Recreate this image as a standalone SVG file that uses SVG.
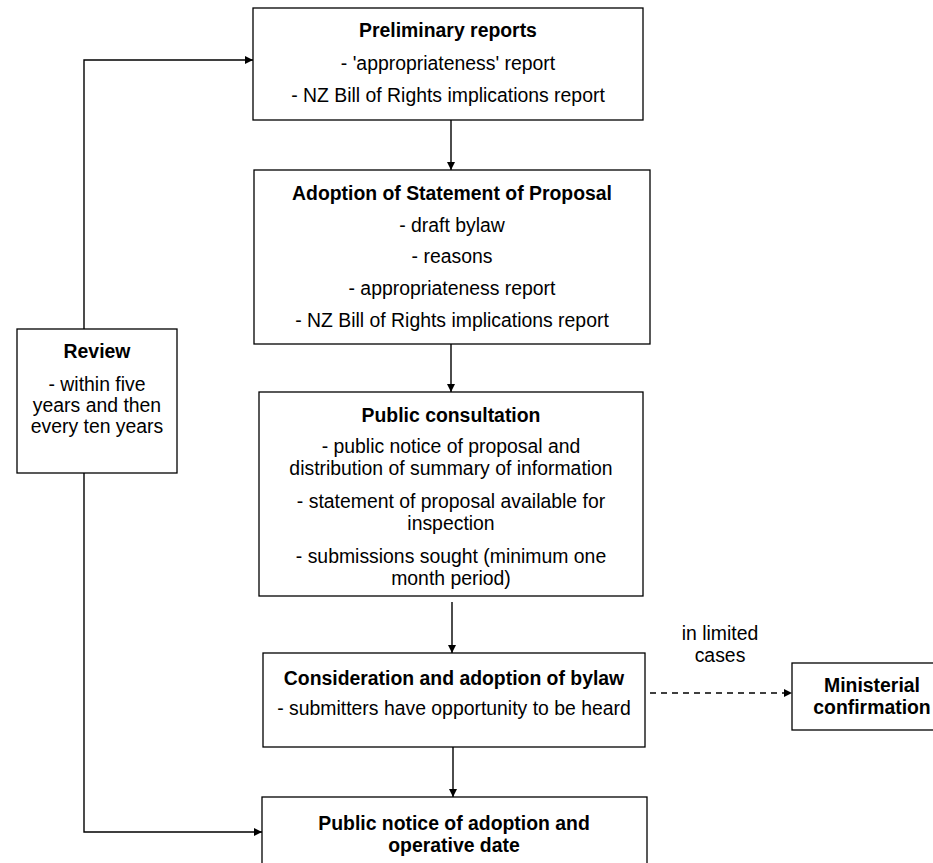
<svg xmlns="http://www.w3.org/2000/svg" width="933" height="863" viewBox="0 0 933 863">
<defs>
<style>
.box{fill:#fff;stroke:#000;stroke-width:1.3}
text{font-family:"Liberation Sans",Arial,sans-serif;font-size:19.4px;fill:#000;text-anchor:middle}
.b{font-weight:bold}
.ln{fill:none;stroke:#000;stroke-width:1.4}
.dash{stroke-dasharray:6 5}
</style>
<marker id="ah" viewBox="0 0 10 10" refX="10" refY="5" markerWidth="8" markerHeight="8" markerUnits="userSpaceOnUse" orient="auto">
<path d="M0,0 L10,5 L0,10 Z" fill="#000"/>
</marker>
</defs>
<rect width="933" height="863" fill="#fff"/>
<g id="connectors">
<path class="ln" d="M451,120 V170" marker-end="url(#ah)"/>
<path class="ln" d="M451,344 V392" marker-end="url(#ah)"/>
<path class="ln" d="M452,602 V653" marker-end="url(#ah)"/>
<path class="ln" d="M453,747 V797" marker-end="url(#ah)"/>
<path class="ln" d="M84,329 V60 H253" marker-end="url(#ah)"/>
<path class="ln" d="M84,473 V832 H262" marker-end="url(#ah)"/>
<path class="ln dash" d="M650,693 H792" marker-end="url(#ah)"/>
<text x="720" y="640">in limited</text>
<text x="720" y="662">cases</text>
</g>
<g id="preliminary">
<rect class="box" x="253" y="8" width="390" height="112"/>
<text class="b" x="448" y="37">Preliminary reports</text>
<text x="448" y="70">- 'appropriateness' report</text>
<text x="448" y="102">- NZ Bill of Rights implications report</text>
</g>
<g id="adoption">
<rect class="box" x="254" y="170" width="396" height="174"/>
<text class="b" x="452" y="200">Adoption of Statement of Proposal</text>
<text x="452" y="232">- draft bylaw</text>
<text x="452" y="263">- reasons</text>
<text x="452" y="295">- appropriateness report</text>
<text x="452" y="327">- NZ Bill of Rights implications report</text>
</g>
<g id="review">
<rect class="box" x="17" y="329" width="160" height="144"/>
<text class="b" x="97" y="358">Review</text>
<text x="97" y="391">- within five</text>
<text x="97" y="412">years and then</text>
<text x="97" y="433">every ten years</text>
</g>
<g id="consultation">
<rect class="box" x="259" y="392" width="384" height="204"/>
<text class="b" x="451" y="422">Public consultation</text>
<text x="451" y="453">- public notice of proposal and</text>
<text x="451" y="475">distribution of summary of information</text>
<text x="451" y="508">- statement of proposal available for</text>
<text x="451" y="530">inspection</text>
<text x="451" y="563">- submissions sought (minimum one</text>
<text x="451" y="585">month period)</text>
</g>
<g id="consideration">
<rect class="box" x="263" y="653" width="382" height="94"/>
<text class="b" x="454" y="685">Consideration and adoption of bylaw</text>
<text x="454" y="715">- submitters have opportunity to be heard</text>
</g>
<g id="ministerial">
<rect class="box" x="792" y="663" width="160" height="67"/>
<text class="b" x="872" y="692">Ministerial</text>
<text class="b" x="872" y="714">confirmation</text>
</g>
<g id="notice">
<rect class="box" x="262" y="797" width="385" height="80"/>
<text class="b" x="454" y="830">Public notice of adoption and</text>
<text class="b" x="454" y="852">operative date</text>
</g>
</svg>
